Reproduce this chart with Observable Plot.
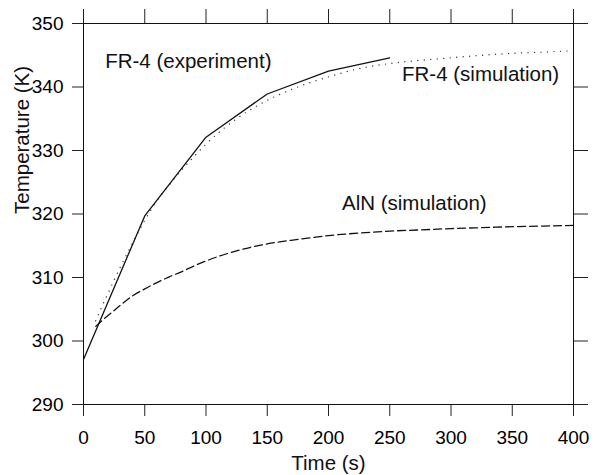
<!DOCTYPE html>
<html>
<head>
<meta charset="utf-8">
<script src="https://cdn.jsdelivr.net/npm/d3@7"></script>
<script src="https://cdn.jsdelivr.net/npm/@observablehq/plot@0.6"></script>
<style>
  html, body { margin: 0; padding: 0; background: #fff; }
  #chart { width: 595px; height: 475px; }
</style>
</head>
<body>
<div id="chart"></div>
<script>
// Experimental FR-4 measurements
const expTime = [0, 50, 100, 150, 200, 250];
const expTemp = [297.1, 319.7, 332.1, 338.9, 342.5, 344.6];

// Simulation sample times
const simTime = [10, 15, 20, 25, 30, 40, 50, 60, 70, 80, 90, 100, 125, 150, 175, 200, 225, 250, 275, 300, 325, 350, 375, 400];
// FR-4 simulation
const fr4SimTemp = [303.2, 305.4, 307.5, 309.6, 311.6, 315.4, 319.0, 322.1, 324.6, 326.9, 329.0, 331.0, 335.0, 337.9, 340.0, 341.6, 342.9, 343.7, 344.2, 344.6, 345.0, 345.3, 345.5, 345.7];
// AlN simulation
const alnSimTemp = [302.3, 303.2, 304.0, 304.8, 305.6, 307.1, 308.2, 309.2, 310.1, 310.9, 311.8, 312.6, 314.2, 315.3, 316.0, 316.6, 317.0, 317.3, 317.5, 317.7, 317.85, 318.0, 318.1, 318.2];

// Tick values
const xTicks = [0, 50, 100, 150, 200, 250, 300, 350, 400];
const yTicks = [290, 300, 310, 320, 330, 340, 350];

// Annotation labels (data coordinates)
const labelText = ["FR-4 (experiment)", "FR-4 (simulation)", "AlN (simulation)"];
const labelTime = [17.7, 260, 211];
const labelTemp = [344.0, 341.9, 321.65];

const xTitle = "Time (s)";
const yTitle = "Temperature (K)";

const expData = expTime.map((t, i) => ({t, v: expTemp[i]}));
const fr4Sim = simTime.map((t, i) => ({t, v: fr4SimTemp[i]}));
const alnSim = simTime.map((t, i) => ({t, v: alnSimTemp[i]}));
const labels = labelText.map((s, i) => ({s, t: labelTime[i], v: labelTemp[i]}));

const font = "'Liberation Sans', Arial, Helvetica, sans-serif";

const chart = Plot.plot({
  width: 595,
  height: 475,
  marginLeft: 83,
  marginRight: 22,
  marginTop: 23,
  marginBottom: 71,
  style: {fontFamily: font, fontSize: "19px", color: "#000", background: "#fff", overflow: "visible"},
  x: {domain: [0, 400]},
  y: {domain: [290, 350]},
  marks: [
    Plot.axisX({anchor: "bottom", ticks: xTicks, tickSize: 12, tickPadding: 14, label: null, stroke: "#222"}),
    Plot.axisX({anchor: "top", ticks: xTicks, tickSize: 15, tickFormat: () => "", label: null, stroke: "#222"}),
    Plot.axisY({anchor: "left", ticks: yTicks, tickSize: 11, tickPadding: 9, label: null, stroke: "#222"}),
    Plot.axisY({anchor: "right", ticks: yTicks, tickSize: 14, tickFormat: () => "", label: null, stroke: "#222"}),
    Plot.frame({stroke: "#111", strokeWidth: 1}),
    Plot.line(fr4Sim, {x: "t", y: "v", stroke: "#333", strokeWidth: 1.4, strokeDasharray: "0,6.5", strokeLinecap: "round", curve: "monotone-x"}),
    Plot.line(alnSim, {x: "t", y: "v", stroke: "#111", strokeWidth: 1.3, strokeDasharray: "8,4", curve: "monotone-x"}),
    Plot.line(expData, {x: "t", y: "v", stroke: "#111", strokeWidth: 1.3}),
    Plot.text(labels, {x: "t", y: "v", text: "s", textAnchor: "start", lineAnchor: "middle", fontSize: 20.5, fill: "#111"}),
    Plot.text([xTitle], {text: d => d, frameAnchor: "bottom", lineAnchor: "middle", dy: 59.4, fontSize: 20.5, fill: "#111"}),
    Plot.text([yTitle], {text: d => d, frameAnchor: "left", rotate: -90, lineAnchor: "middle", dx: -61, fontSize: 20.5, fill: "#111"})
  ]
});
document.getElementById("chart").appendChild(chart);
</script>
</body>
</html>
